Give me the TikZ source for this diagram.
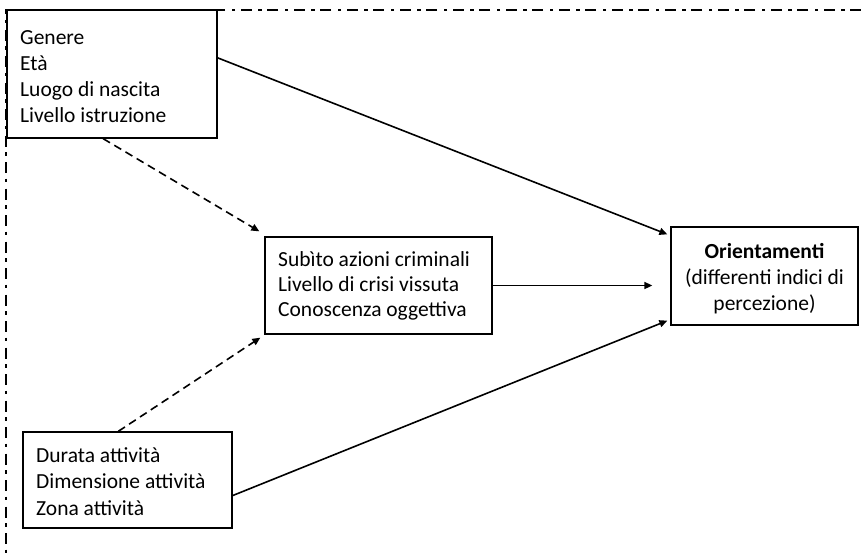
\documentclass[tikz,border=0pt]{standalone}
\usepackage{fontspec}
\setmainfont{Carlito}
\usetikzlibrary{arrows.meta,calc}
\tikzset{
  box/.style={draw=black, line width=1.3pt, rectangle, inner sep=0pt},
  txt/.style={align=left, inner sep=0pt, font=\fontsize{21.5}{26}\selectfont},
  conn/.style={line width=1.6pt, -{Triangle[length=8pt,width=7pt]}},
  dconn/.style={conn, dash pattern=on 8pt off 5pt},
  frame/.style={line width=2pt, dash pattern=on 11pt off 5.5pt on 3.5pt off 6.5pt}
}
\begin{document}
\begin{tikzpicture}[x=1pt,y=-1pt]
\useasboundingbox (0,0) rectangle (861,557);
% frame
\coordinate (fTR) at (861,10);
\coordinate (fTL) at (6,10);
\coordinate (fBL) at (6,557);
\draw[frame] (fTR) -- (fTL) -- (fBL);
% boxes
\node[box, fill=white, minimum width=210pt, minimum height=128pt] (b1) at (112,74) {};
\node[txt, anchor=west] (b1t) at (20,77) {Genere\\Età\\Luogo di nascita\\Livello istruzione};
\node[box, minimum width=227pt, minimum height=97pt] (b2) at (378.5,285.5) {};
\node[txt, anchor=west, font=\fontsize{21.5}{25}\selectfont] (b2t) at (278,286) {Subìto azioni criminali\\Livello di crisi vissuta\\Conoscenza oggettiva};
\node[box, minimum width=187pt, minimum height=98pt] (b3) at (764.5,276) {};
\node[txt, align=center] (b3t) at (764.5,278.5) {\textbf{Orientamenti}\\(differenti indici di\\percezione)};
\node[box, minimum width=209pt, minimum height=96pt] (b4) at (127.5,480) {};
\node[txt, anchor=west, font=\fontsize{21.5}{26.5}\selectfont] (b4t) at (36,481.5) {Durata attività\\Dimensione attività\\Zona attività};
% connectors
\draw[conn] ($(b1.north east)!0.375!(b1.south east)$) -- ($(b3.north west)+(-3,8)$);
\draw[conn] (b2.east) -- ($(b2.east -| b3.west)+(-18,0)$);
\draw[conn] ($(b4.north east)!0.66!(b4.south east)$) -- ($(b3.south west)+(-3,-5)$);
\draw[dconn] ($(b1.south west)!0.458!(b1.south east)$) -- ($(b2.north west)+(-5,-5)$);
\draw[dconn] ($(b4.north west)!0.456!(b4.north east)$) -- ($(b2.south west)+(-4,3)$);
\end{tikzpicture}
\end{document}
